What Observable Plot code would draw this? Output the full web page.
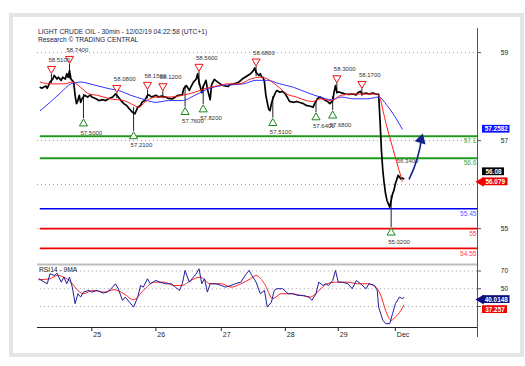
<!DOCTYPE html>
<html><head><meta charset="utf-8">
<script src="https://cdn.jsdelivr.net/npm/d3@7"></script>
<script src="https://cdn.jsdelivr.net/npm/@observablehq/plot@0.6"></script>
<style>
html,body{margin:0;padding:0;background:#fff;}
#wrap{position:relative;width:525px;height:366px;overflow:hidden;font-family:"Liberation Sans",Arial,sans-serif;}
#frame{position:absolute;left:9px;top:13px;width:515px;height:344px;box-sizing:border-box;border:4px solid #e4e4e4;}
#title{position:absolute;left:38px;top:27.5px;font-size:6.7px;line-height:8.6px;color:#1e1e46;white-space:nowrap;}
#main,#rsi{position:absolute;left:0;}
#main{top:0px;} #rsi{top:262px;}
</style></head><body>
<div id="wrap"><div id="frame"></div><div id="main"></div><div id="rsi"></div>
<div id="title">LIGHT CRUDE OIL - 30min - 12/02/19 04:22:58 (UTC+1)<br>Research © TRADING CENTRAL</div></div>
<script>
// ---- data (x = 30-min bar index) ----
const dayBars = [39, 85, 132, 178, 216, 257];
const dayLabels = ["25", "26", "27", "28", "29", "Dec"];

const priceBars = [2,3,6,7,9,11,12,14,15,17,18,20,21,22,23,24,26,27,28,29,30,31,32,34,36,38,39,42,44,47,49,51,54,56,58,60,62,64,66,68,70,72,74,75,77,79,80,82,85,87,89,92,94,97,99,101,104,105,107,109,110,112,114,115,116,118,119,121,122,124,125,127,129,132,134,137,138,141,143,145,147,149,151,153,155,156,157,159,160,161,162,163,164,165,166,167,168,169,171,172,174,176,178,180,181,184,186,189,191,193,196,198,199,201,203,205,207,208,210,212,213,214,215,217,219,221,224,226,229,230,232,233,236,238,241,243,245,246,247,248,249,250,251,252,253,254,255,256,257,259,260,261,262,263];
const priceClose = [58.21,58.19,58.24,58.19,58.33,58.40,58.48,58.40,58.44,58.37,58.44,58.40,58.52,58.44,58.59,58.40,58.33,58.03,57.84,57.91,58.03,57.87,57.95,58.03,57.99,58.04,57.99,57.95,57.91,57.93,57.91,57.95,57.99,58.06,57.99,57.91,57.84,57.80,57.72,57.65,57.61,57.76,57.80,57.87,57.91,58.03,58.04,57.99,58.03,57.99,58.01,57.99,57.96,57.95,57.99,58.03,58.04,58.18,58.25,58.14,58.21,58.33,58.40,58.52,58.33,58.09,58.23,58.37,58.18,57.93,58.27,58.39,58.34,58.27,58.25,58.23,58.27,58.29,58.31,58.34,58.40,58.44,58.48,58.52,58.59,58.65,58.55,58.48,58.52,58.44,58.44,58.33,58.03,57.87,57.72,57.68,57.84,57.95,58.10,58.14,58.10,58.12,58.06,57.95,57.89,57.87,57.89,57.86,57.84,57.80,57.78,57.76,57.84,57.95,57.99,57.95,57.91,57.90,57.84,57.91,58.10,58.25,58.10,58.10,58.08,58.06,58.05,58.06,58.04,58.09,58.12,58.06,58.08,58.06,58.08,58.06,58.05,57.46,56.78,56.32,56.02,55.79,55.64,55.56,55.49,55.64,55.79,55.87,56.02,56.21,56.17,56.13,56.15,56.13];

const wickBars = [10,23,33,57,69,79,90,106,116,119,157,169,200,212,215,233,254];
const wickHigh = [58.51,58.74,58.05,58.08,57.75,58.15,58.12,58.25,58.56,58.25,58.68,58.00,57.90,58.00,58.30,58.17,55.75];
const wickLow  = [58.30,58.40,57.50,57.95,57.21,57.95,57.95,57.76,58.25,57.82,58.45,57.51,57.64,57.68,58.05,58.00,55.02];

const redMaBars = [2,9,19,25,31,37,43,52,62,67,73,77,85,94,104,113,123,130,137,145,153,160,165,172,179,186,193,198,203,211,218,227,237,244,251,257,262];
const redMaValues = [58.33,58.29,58.29,58.33,58.21,58.06,58.03,57.95,57.91,57.84,57.76,57.87,57.99,57.99,58.03,58.10,58.21,58.25,58.29,58.29,58.40,58.44,58.40,58.25,58.06,57.99,57.91,57.89,57.95,57.91,58.03,58.06,58.06,58.06,57.30,56.62,56.08];
const blueMaBars = [2,9,17,24,31,40,50,60,67,75,85,94,104,113,123,132,148,157,165,174,184,193,203,211,218,227,237,245,251,257,262];
const blueMaValues = [57.68,57.87,58.10,58.29,58.33,58.27,58.19,58.12,58.03,57.95,57.87,57.91,57.91,58.03,58.18,58.25,58.29,58.37,58.37,58.29,58.21,58.10,57.99,57.93,57.99,57.95,57.95,57.99,57.80,57.53,57.26];

const swingHighBars = [10,23,57,79,90,116,157,215,233];
const swingHighValues = [58.51,58.74,58.08,58.15,58.12,58.56,58.68,58.30,58.17];
const swingLowBars = [33,69,106,119,169,200,212,254];
const swingLowValues = [57.50,57.21,57.76,57.82,57.51,57.64,57.68,55.02];
const pivotNoteBar = 258, pivotNoteValue = 56.34;

const levelValues = [57.1, 56.6, 55.45, 55, 54.55];
const levelLabels = ["57.1", "56.6", "55.45", "55", "54.55"];

const priceTickValues = [59, 57, 55];
const priceTickLabels = ["59", "57", "55"];
const priceGridValues = [59, 57, 56, 55];

const arrowFrom = [267, 56.13];
const arrowTo = [276, 57.1];

const lastPrice = 56.08, lastRedMa = 56.079, lastBlueMa = 57.2582;

const rsiBars = [1,5,7,9,12,14,17,19,21,23,25,27,29,31,33,37,39,43,47,50,54,56,58,61,63,66,69,72,74,76,79,81,85,88,92,96,99,102,104,106,109,111,114,116,118,120,122,124,128,132,135,139,142,146,150,152,154,157,160,163,165,168,170,172,176,180,183,187,191,195,197,200,202,205,207,209,212,214,216,219,223,226,229,232,236,238,242,244,245,248,250,253,255,257,260,262,263];
const rsiValues = [61.2,57.4,55.6,66.9,64.9,67.5,57.4,63.0,55.6,63.0,51.8,33.1,44.4,40.6,46.2,48.1,46.2,48.1,45.1,46.2,51.8,55.6,50.0,36.9,40.6,34.9,29.3,40.6,53.7,51.8,61.2,55.6,59.3,57.4,55.6,55.6,51.8,48.1,55.6,70.6,57.4,61.2,66.9,72.5,55.6,61.2,46.2,55.6,55.6,53.7,51.8,53.7,55.6,57.4,66.9,70.6,64.9,57.4,44.4,48.1,29.3,34.9,48.1,50.0,50.0,44.4,44.4,42.5,42.5,40.6,36.9,44.4,57.4,53.7,55.6,53.7,59.3,70.6,57.4,57.4,55.6,50.0,59.3,55.6,50.0,55.6,53.7,48.1,29.3,14.4,10.7,10.7,21.9,33.1,40.6,38.8,40.0];
const rsiMaBars = [1,9,14,19,24,29,33,40,48,55,62,69,76,84,91,98,104,110,117,124,132,139,146,153,157,163,169,175,182,189,196,201,208,215,223,230,237,243,247,250,254,257,261,263];
const rsiMaValues = [60.1,61.2,64.9,63.0,57.4,48.1,44.4,48.1,46.2,48.9,44.4,37.6,48.1,57.4,57.4,53.7,53.7,59.3,63.0,55.6,55.6,51.8,55.6,61.2,64.9,55.6,38.8,44.4,44.4,42.5,40.6,46.2,55.6,57.4,57.4,55.6,55.6,51.8,40.6,25.6,14.4,18.1,25.6,31.5];
const rsiGridValues = [70, 50, 30];
const rsiTickValues = [70, 50];
const rsiTickLabels = ["70", "50"];
const rsiLast = 40.0148, rsiMaLast = 37.257;

// ---- styling / layout ----
const W = 525, ML = 37, MR = 48;
const XD = [0, 316];
const PXB = (W - ML - MR) / (XD[1] - XD[0]);
const bx = px => (px - ML) / PXB;          // page pixel -> bar coordinate (for annotations)
const PD = [54.207, 59.548];
const PY = 235 / (PD[1] - PD[0]);
const RD = [6.3, 77.3];
const RY = 63 / (RD[1] - RD[0]);
const FONT = "Liberation Sans, Arial, sans-serif";
const levelStroke = ["#1f9a1f", "#1f9a1f", "#0000f0", "#f00000", "#f00000"];
const levelText = ["#3aaa3a", "#3aaa3a", "#5a5aff", "#ff4545", "#ff4545"];
const levelWidth = [2, 2, 1.6, 1.6, 1.6];

const price = priceBars.map((b, i) => ({b, v: priceClose[i]}));
const wicks = wickBars.map((b, i) => ({b, hi: wickHigh[i], lo: wickLow[i]}));
const redMa = redMaBars.map((b, i) => ({b, v: redMaValues[i]}));
const blueMa = blueMaBars.map((b, i) => ({b, v: blueMaValues[i]}));
const highs = swingHighBars.map((b, i) => ({b, v: swingHighValues[i]}));
const lows = swingLowBars.map((b, i) => ({b, v: swingLowValues[i]}));
const rsi = rsiBars.map((b, i) => ({b, v: rsiValues[i]}));
const rsiMa = rsiMaBars.map((b, i) => ({b, v: rsiMaValues[i]}));

function tag(value, label, fill, pxL, pxR, dyPx, pyScale, arrow) {
  const c = value - dyPx / pyScale, h = 3.9 / pyScale;
  const m = [
    Plot.rect([0], {x1: bx(pxL), x2: bx(pxR), y1: c - h, y2: c + h, fill}),
    Plot.text([label], {x: bx((pxL + pxR) / 2), y: c, text: d => d, fill: "white", fontSize: 6.4, fontWeight: "bold"})
  ];
  if (arrow) m.push(Plot.dot([0], {x: bx(pxL - 1.5), y: c, symbol: "triangle", rotate: -90, r: 3.6, fill, stroke: null}));
  return m;
}

const mainMarks = [
  Plot.ruleY(priceGridValues, {x1: XD[0], x2: XD[1], stroke: "#9a9a9a", strokeDasharray: "1,3", strokeWidth: 1}),
  Plot.ruleX([XD[1]], {y1: PD[1], y2: PD[0], stroke: "#555", strokeWidth: 1}),
  Plot.ruleY(priceTickValues, {x1: XD[1], x2: XD[1] + 4 / PXB, stroke: "#555"}),
  Plot.text(priceTickValues, {x: XD[1], y: d => d, text: (d, i) => priceTickLabels[i], dx: 27, fontSize: 6.6, fill: "#222"}),
  ...levelValues.map((v, i) => Plot.ruleY([v], {x1: 2, x2: XD[1], stroke: levelStroke[i], strokeWidth: levelWidth[i]})),
  ...levelValues.map((v, i) => Plot.text([v], {x: XD[1], y: d => d, text: () => levelLabels[i], dx: -1, dy: 5, textAnchor: "end", fontSize: 6.6, fill: levelText[i]})),
  Plot.ruleX(wicks, {x: "b", y1: "lo", y2: "hi", stroke: "#222", strokeWidth: 1}),
  Plot.line(price, {x: "b", y: "v", stroke: "#000", strokeWidth: 1.7}),
  Plot.line(blueMa, {x: "b", y: "v", stroke: "#3232ff", strokeWidth: 1, curve: "monotone-x"}),
  Plot.line(redMa, {x: "b", y: "v", stroke: "#ff1c1c", strokeWidth: 1, curve: "monotone-x"}),
  Plot.dot(highs, {x: "b", y: "v", dy: -5.3, symbol: "triangle", rotate: 180, r: 3, stroke: "#ee1111", fill: "white", strokeWidth: 1}),
  Plot.dot(lows, {x: "b", y: "v", dy: 5, symbol: "triangle", r: 3, stroke: "#1a8a1a", fill: "white", strokeWidth: 1}),
  Plot.text(highs, {x: "b", y: "v", text: d => d.v.toFixed(4), dy: -14, dx: -3, textAnchor: "start", fontSize: 6, fill: "#333"}),
  Plot.text(lows, {x: "b", y: "v", text: d => d.v.toFixed(4), dy: 14, dx: -3, textAnchor: "start", fontSize: 6, fill: "#333"}),
  Plot.text([pivotNoteValue], {x: pivotNoteBar, y: d => d, text: d => d.toFixed(4), dy: -8.5, textAnchor: "start", fontSize: 6, fill: "#444"}),
  Plot.arrow([0], {x1: arrowFrom[0], y1: arrowFrom[1], x2: arrowTo[0], y2: arrowTo[1], bend: -10, stroke: "#14208c", strokeWidth: 1.6, headLength: 0}),
  Plot.dot([0], {x: arrowTo[0], y: arrowTo[1], dy: 3.5, dx: -0.8, symbol: "triangle", rotate: 16, r: 4.2, fill: "#14208c", stroke: null}),
  ...tag(lastBlueMa, lastBlueMa.toFixed(4), "#0a14ff", 482, 509.5, 0, PY, false),
  ...tag(lastPrice, lastPrice.toFixed(2), "#000", 482, 504, -9.3, PY, false),
  ...tag(lastRedMa, lastRedMa.toFixed(3), "#f00000", 482, 507.5, 0.7, PY, true)
];

const mainChart = Plot.plot({
  width: W, height: 264, marginLeft: ML, marginRight: MR, marginTop: 28, marginBottom: 1,
  x: {domain: XD, axis: null},
  y: {domain: PD, axis: null},
  style: {fontFamily: FONT, fontSize: "6.6px", background: "transparent", overflow: "visible"},
  marks: mainMarks
});
document.getElementById("main").appendChild(mainChart);

const rsiMarks = [
  Plot.ruleY([RD[1]], {x1: XD[0], x2: XD[1], stroke: "#bdbdbd", strokeWidth: 2}),
  Plot.ruleY(rsiGridValues, {x1: 2, x2: XD[1], stroke: "#9a9a9a", strokeDasharray: "1,3", strokeWidth: 1}),
  Plot.ruleY([RD[0]], {x1: XD[0], x2: XD[1], stroke: "#222", strokeWidth: 1}),
  Plot.ruleX([XD[1]], {y1: RD[1] + 1 / RY, y2: RD[0] - 10 / RY, stroke: "#555", strokeWidth: 1}),
  Plot.ruleY(rsiGridValues, {x1: XD[1], x2: XD[1] + 4 / PXB, stroke: "#555"}),
  Plot.text(rsiTickValues, {x: XD[1], y: d => d, text: (d, i) => rsiTickLabels[i], dx: 27, fontSize: 6.6, fill: "#222"}),
  Plot.ruleX(dayBars, {x: d => d, y1: RD[0], y2: RD[0] - 4 / RY, stroke: "#222"}),
  Plot.text(dayBars, {x: d => d, y: RD[0], text: (d, i) => dayLabels[i], dx: 1.5, dy: 7, textAnchor: "start", fontSize: 7, fill: "#222"}),
  Plot.text(["RSI14 - 9MA"], {frameAnchor: "top-left", dx: 1.5, dy: 2.5, textAnchor: "start", lineAnchor: "top", fontSize: 6.7, fill: "#222"}),
  Plot.line(rsiMa, {x: "b", y: "v", stroke: "#ff2020", strokeWidth: 1, curve: "monotone-x"}),
  Plot.line(rsi, {x: "b", y: "v", stroke: "#1e1e9c", strokeWidth: 1}),
  ...tag(rsiLast, rsiLast.toFixed(4), "#0c0c80", 482, 509.5, 2.0, RY, true),
  ...tag(rsiMaLast, rsiMaLast.toFixed(3), "#f00000", 482, 507, 9.6, RY, false)
];

const rsiChart = Plot.plot({
  width: W, height: 83, marginLeft: ML, marginRight: MR, marginTop: 2, marginBottom: 18,
  x: {domain: XD, axis: null},
  y: {domain: RD, axis: null},
  style: {fontFamily: FONT, fontSize: "6.6px", background: "transparent", overflow: "visible"},
  marks: rsiMarks
});
document.getElementById("rsi").appendChild(rsiChart);
</script>
</body></html>
